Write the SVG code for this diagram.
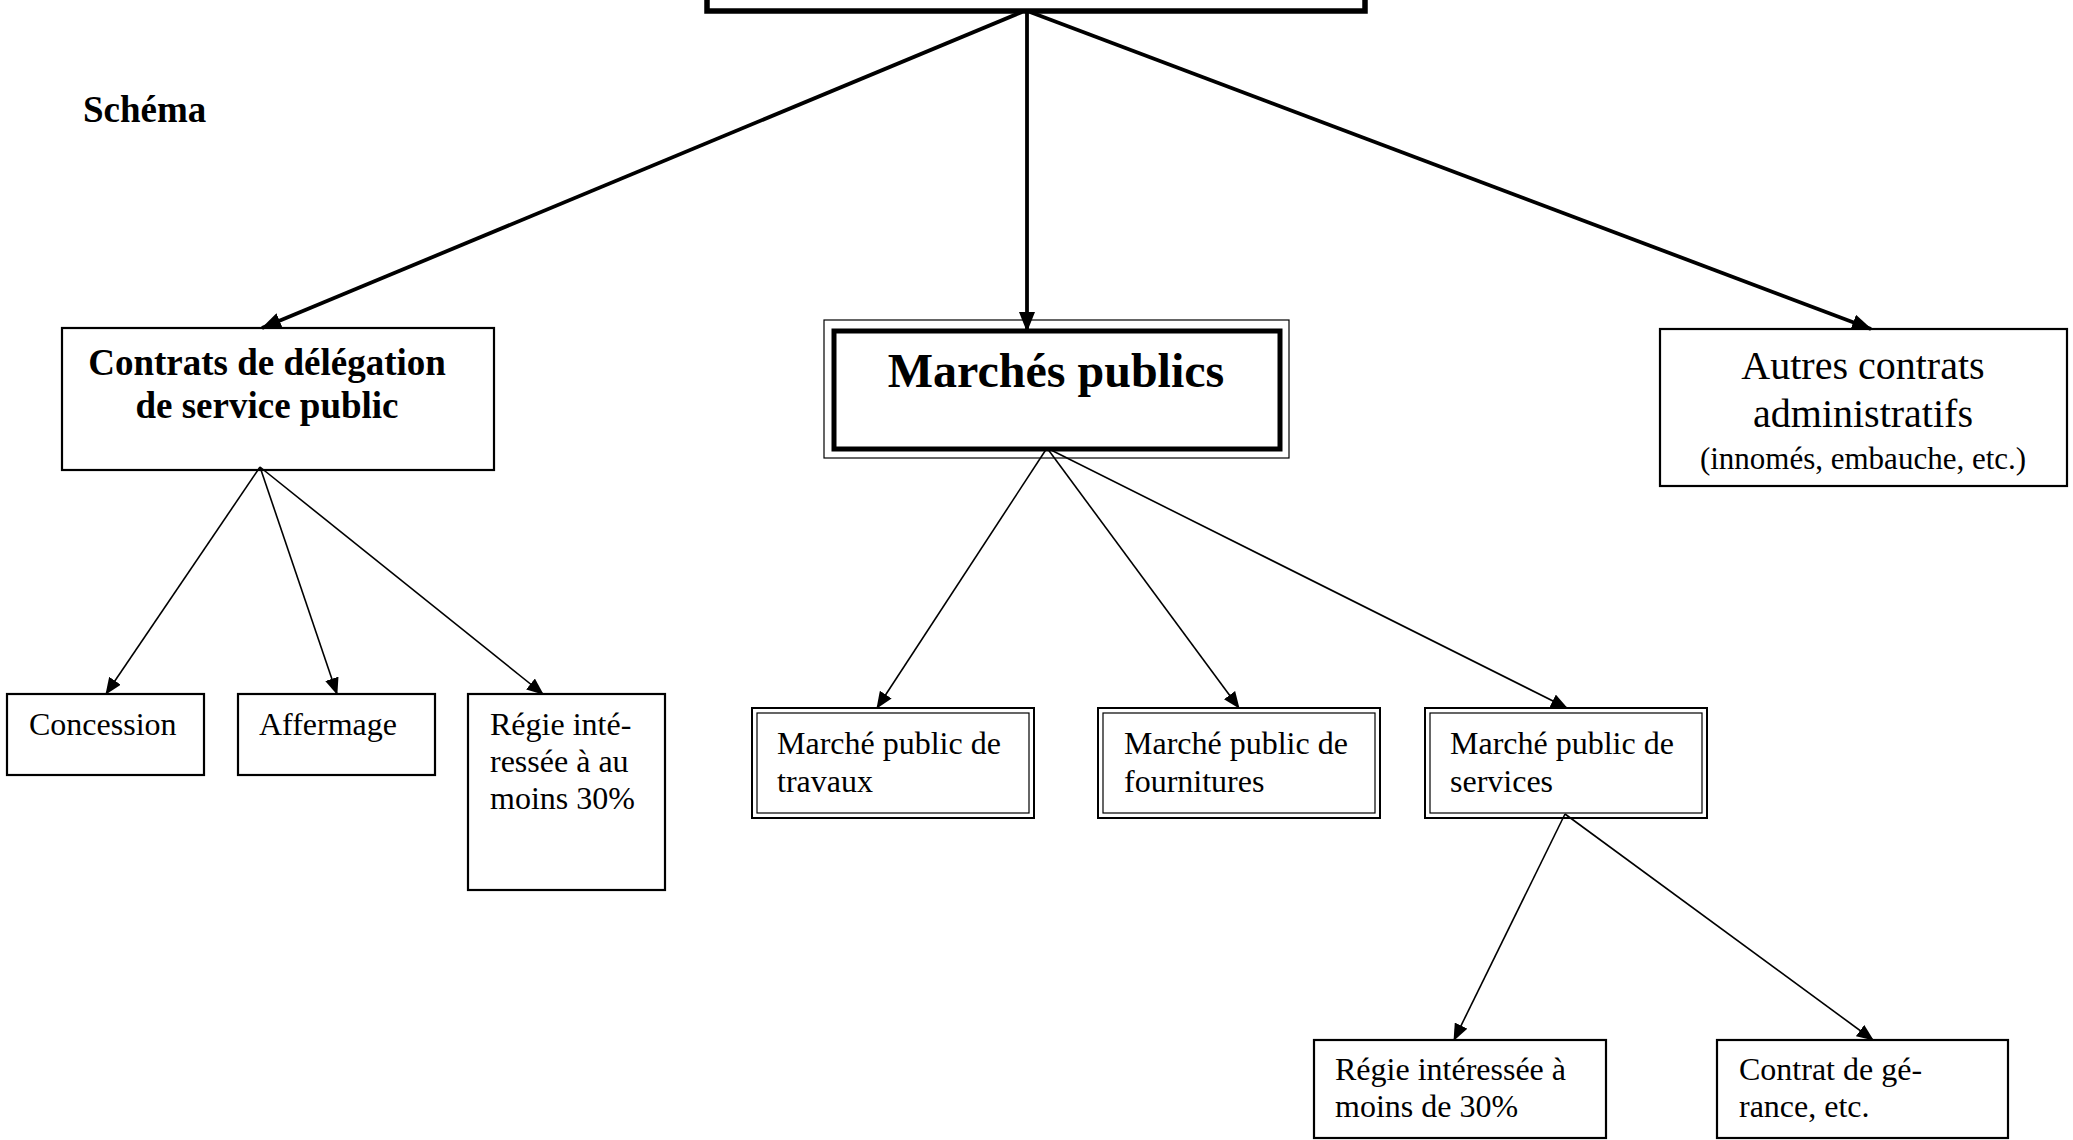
<svg xmlns="http://www.w3.org/2000/svg" width="2073" height="1140" viewBox="0 0 2073 1140">
<style>
.t{font-family:"Liberation Serif","Times New Roman",serif;fill:#000}
.b{font-weight:bold}
.s{font-size:32px}
.box{fill:none;stroke:#000;stroke-width:2.2}
.thk{stroke:#000;stroke-width:3.8;fill:none}
.thn{stroke:#000;stroke-width:1.6;fill:none}
</style>
<defs>
<marker id="ah" markerUnits="userSpaceOnUse" markerWidth="20" markerHeight="16" refX="19" refY="8" orient="auto">
<path d="M0,0 L20,8 L0,16 z" fill="#000"/>
</marker>
<marker id="as" markerUnits="userSpaceOnUse" markerWidth="17" markerHeight="14" refX="16" refY="7" orient="auto">
<path d="M0,0 L17,7 L0,14 z" fill="#000"/>
</marker>
</defs>
<rect width="2073" height="1140" fill="#fff"/>

<g id="top">
<rect x="707" y="-30" width="658" height="41" fill="#fff" stroke="#000" stroke-width="5.5"/>
</g>

<g id="schema">
<text class="t b" x="83" y="122" font-size="37">Schéma</text>
</g>

<g id="dsp">
<rect class="box" x="62" y="328" width="432" height="142" stroke-width="2.5"/>
<text class="t b" font-size="37" text-anchor="middle" x="267" y="375">Contrats de délégation</text>
<text class="t b" font-size="37" text-anchor="middle" x="267" y="418">de service public</text>
</g>

<g id="marches">
<rect x="824" y="320" width="465" height="138" fill="none" stroke="#000" stroke-width="1.2"/>
<rect x="834" y="331" width="446" height="118" fill="none" stroke="#000" stroke-width="5"/>
<text class="t b" font-size="48" text-anchor="middle" x="1056" y="387">Marchés publics</text>
</g>

<g id="autres">
<rect class="box" x="1660" y="329" width="407" height="157" stroke-width="2.5"/>
<text class="t" font-size="40" text-anchor="middle" x="1863" y="379">Autres contrats</text>
<text class="t" font-size="40" text-anchor="middle" x="1863" y="427">administratifs</text>
<text class="t" font-size="31" text-anchor="middle" x="1863" y="469">(innomés, embauche, etc.)</text>
</g>

<g id="concession">
<rect class="box" x="7" y="694" width="197" height="81"/>
<text class="t s" x="29" y="735">Concession</text>
</g>

<g id="affermage">
<rect class="box" x="238" y="694" width="197" height="81"/>
<text class="t s" x="259" y="735">Affermage</text>
</g>

<g id="regie30">
<rect class="box" x="468" y="694" width="197" height="196"/>
<text class="t s" x="490" y="735">Régie inté-</text>
<text class="t s" x="490" y="772">ressée à au</text>
<text class="t s" x="490" y="809">moins 30%</text>
</g>

<g id="travaux">
<rect x="752" y="708" width="282" height="110" fill="none" stroke="#000" stroke-width="2"/>
<rect x="757" y="713" width="272" height="100" fill="none" stroke="#000" stroke-width="1.2"/>
<text class="t s" x="777" y="754">Marché public de</text>
<text class="t s" x="777" y="792">travaux</text>
</g>

<g id="fournitures">
<rect x="1098" y="708" width="282" height="110" fill="none" stroke="#000" stroke-width="2"/>
<rect x="1103" y="713" width="272" height="100" fill="none" stroke="#000" stroke-width="1.2"/>
<text class="t s" x="1124" y="754">Marché public de</text>
<text class="t s" x="1124" y="792">fournitures</text>
</g>

<g id="services">
<rect x="1425" y="708" width="282" height="110" fill="none" stroke="#000" stroke-width="2"/>
<rect x="1430" y="713" width="272" height="100" fill="none" stroke="#000" stroke-width="1.2"/>
<text class="t s" x="1450" y="754">Marché public de</text>
<text class="t s" x="1450" y="792">services</text>
</g>

<g id="regiemoins">
<rect class="box" x="1314" y="1040" width="292" height="98"/>
<text class="t s" x="1335" y="1080">Régie intéressée à</text>
<text class="t s" x="1335" y="1117">moins de 30%</text>
</g>

<g id="gerance">
<rect class="box" x="1717" y="1040" width="291" height="98"/>
<text class="t s" x="1739" y="1080">Contrat de gé-</text>
<text class="t s" x="1739" y="1117">rance, etc.</text>
</g>

<g id="connectors">
<line class="thk" x1="1022" y1="12" x2="262" y2="328" marker-end="url(#ah)"/>
<line class="thk" x1="1027" y1="12" x2="1027" y2="331" marker-end="url(#ah)"/>
<line class="thk" x1="1030" y1="12" x2="1871" y2="329" marker-end="url(#ah)"/>
<line class="thn" x1="260" y1="467" x2="106" y2="694" marker-end="url(#as)"/>
<line class="thn" x1="260" y1="467" x2="337" y2="694" marker-end="url(#as)"/>
<line class="thn" x1="260" y1="467" x2="543" y2="694" marker-end="url(#as)"/>
<line class="thn" x1="1047" y1="448" x2="877" y2="708" marker-end="url(#as)"/>
<line class="thn" x1="1047" y1="448" x2="1239" y2="708" marker-end="url(#as)"/>
<line class="thn" x1="1047" y1="448" x2="1567" y2="708" marker-end="url(#as)"/>
<line class="thn" x1="1565" y1="814" x2="1454" y2="1040" marker-end="url(#as)"/>
<line class="thn" x1="1565" y1="814" x2="1873" y2="1040" marker-end="url(#as)"/>
</g>
</svg>
